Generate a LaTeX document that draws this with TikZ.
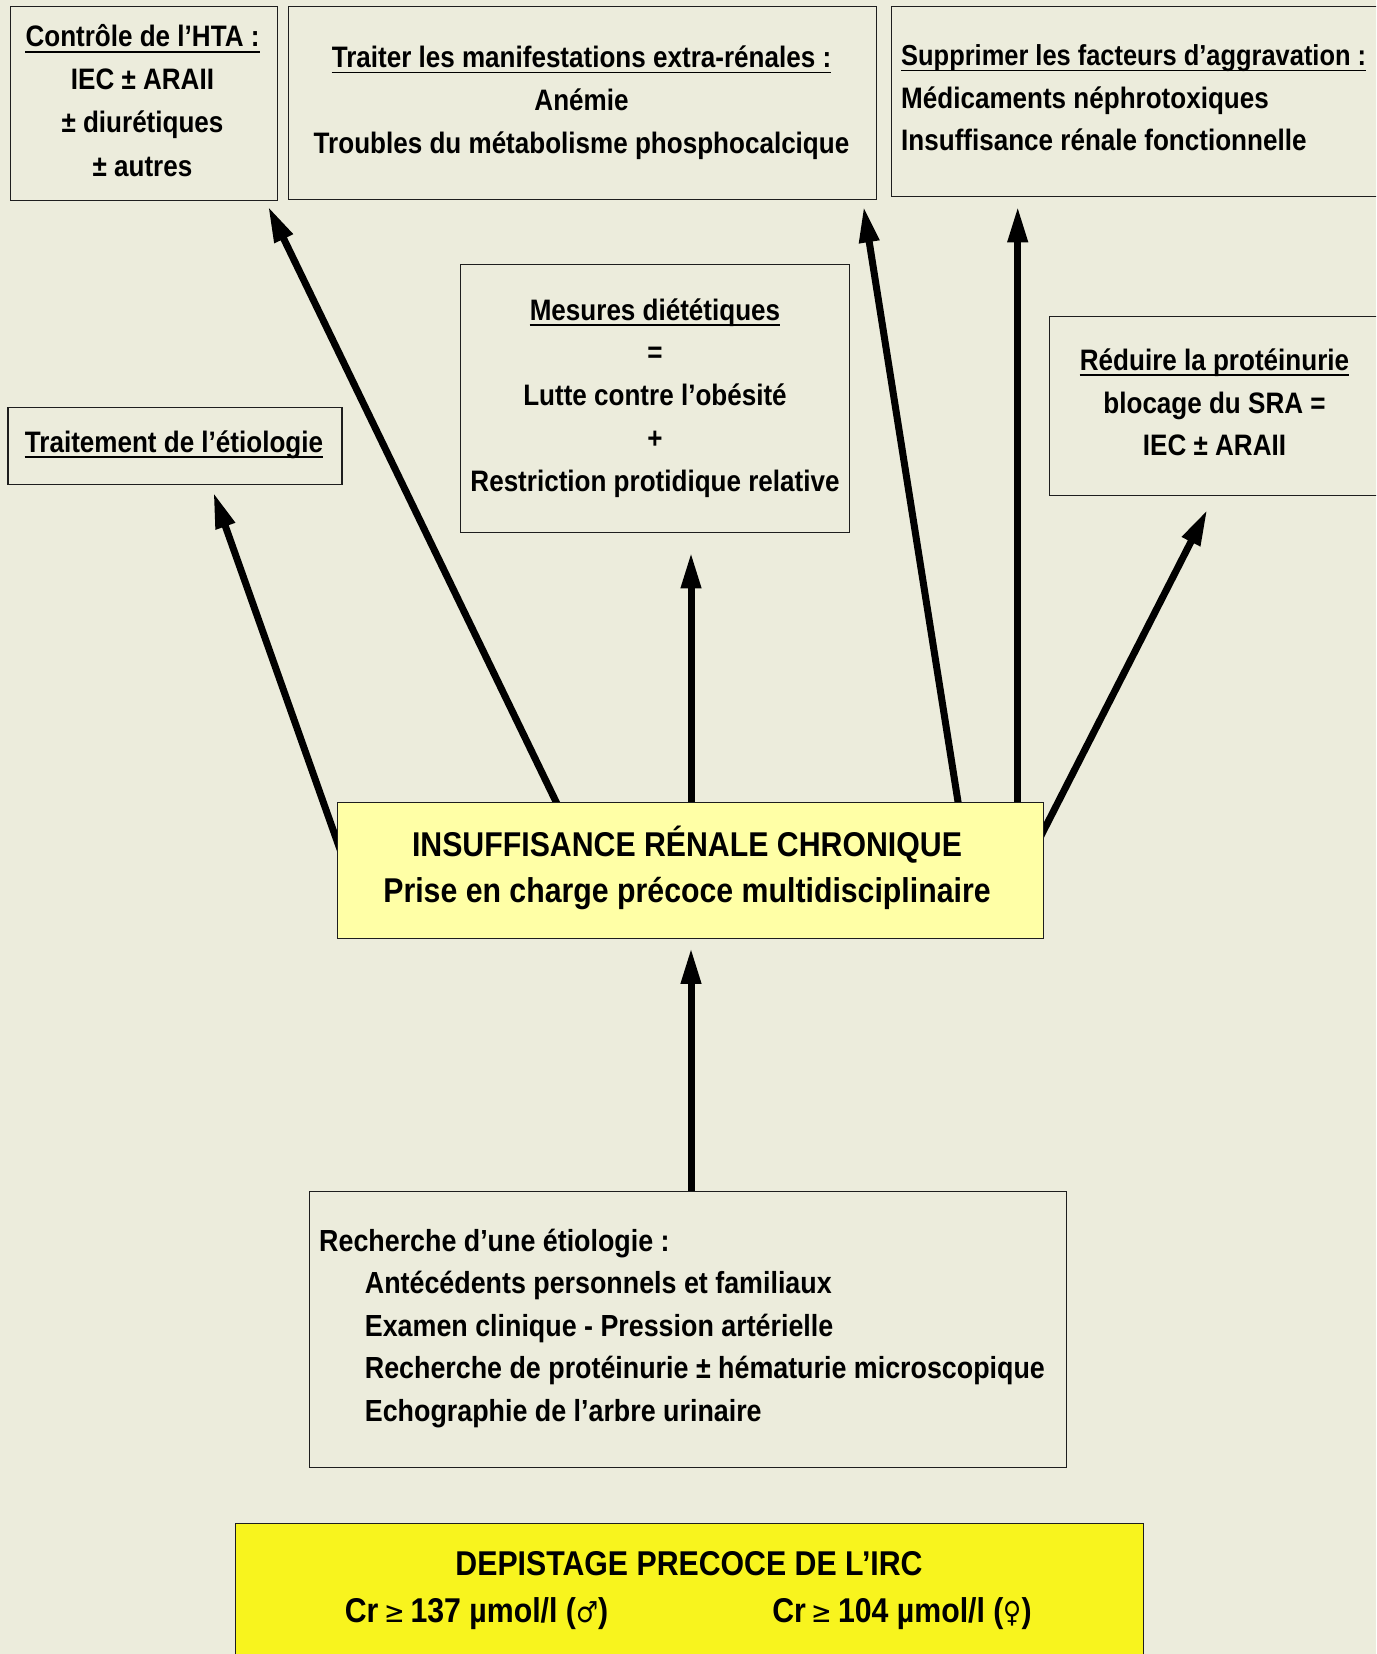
\documentclass[tikz,border=0pt]{standalone}
\usepackage{fontspec}
\setmainfont{Liberation Sans}
\newfontfamily\lab{Liberation Sans}[FakeStretch=0.88]
\newfontfamily\symf{DejaVu Sans}[FakeStretch=0.85]
\newcommand\sy[1]{{\symf\mdseries\fontsize{29}{36}\selectfont #1}}
\usetikzlibrary{arrows.meta,calc}
\definecolor{bg}{RGB}{236,236,220}
\definecolor{ircfill}{RGB}{255,255,166}
\definecolor{depfill}{RGB}{248,244,30}
\definecolor{edge}{RGB}{30,30,30}
\pgfdeclarelayer{bgl}
\pgfdeclarelayer{back}
\pgfsetlayers{bgl,back,main}
\begin{document}
\begin{tikzpicture}[x=1pt,y=-1pt,
  box/.style={draw=edge, line width=1.4pt, fill=bg, inner sep=0pt, anchor=north west},
  t/.style={inner sep=0pt, anchor=base, font=\lab\bfseries\fontsize{29.6}{36}\selectfont},
  tl/.style={t, anchor=base west},
  tr/.style={tl, font=\lab\bfseries\fontsize{30.5}{36}\selectfont},
  big/.style={t, font=\lab\bfseries\fontsize{34.4}{40}\selectfont},
  arr/.style={line width=7pt, -{Triangle[length=36pt,width=19pt]}},
  ul/.style={line width=1.6pt}]
\useasboundingbox (0,0) rectangle (1376,1654);
\clip (0,0) rectangle (1376,1654);
\begin{pgfonlayer}{bgl}
\fill[bg] (0,0) rectangle (1376,1654);
\end{pgfonlayer}

% boxes
\node[box, minimum width=267pt, minimum height=194pt] (ctrl) at (9.5,6) {};
\node[box, minimum width=588pt, minimum height=193pt] (traiter) at (287.5,6) {};
\node[box, minimum width=500pt, minimum height=190pt] (suppr) at (891,6) {};
\node[box, minimum width=388.5pt, minimum height=268pt] (mesures) at (460,264) {};
\node[box, minimum width=340pt, minimum height=179pt] (reduire) at (1049,315.5) {};
\node[box, minimum width=334pt, minimum height=77pt] (etio) at (7.4,407) {};
\node[box, fill=ircfill, minimum width=705.8pt, minimum height=136pt] (irc) at (336.7,801.7) {};
\node[box, minimum width=757pt, minimum height=276pt] (rech) at (309,1191) {};
\node[box, fill=depfill, minimum width=908pt, minimum height=200pt] (dep) at (235,1523) {};

% arrow ends
\coordinate (b1) at ($(irc.north west)+(0,38.3)$);
\coordinate (t1) at ($(etio.south west)+(206,7)$);
\coordinate (b2) at ($(irc.north west)+(219.3,0)$);
\coordinate (t2) at ($(ctrl.south east)+(-9.8,5)$);
\coordinate (b3) at ($(irc.north west)+(354.3,0)$);
\coordinate (t3) at ($(mesures.south west)+(231,19)$);
\coordinate (b4) at ($(irc.north west)+(621.3,0)$);
\coordinate (t4) at ($(traiter.south east)+(-13.3,6)$);
\coordinate (b5) at ($(irc.north west)+(681,0)$);
\coordinate (t5) at ($(suppr.south west)+(126.7,9)$);
\coordinate (b6) at ($(irc.north east)+(0,28.3)$);
\coordinate (t6) at ($(reduire.south west)+(158.3,13.8)$);
\coordinate (b7) at ($(rech.north west)+(382,0)$);
\coordinate (t7) at ($(irc.south west)+(354.3,8.8)$);

\begin{pgfonlayer}{back}
\foreach \i in {1,...,6}{
  \draw[arr] ($(b\i)!-15pt!(t\i)$) -- (t\i);
}
\draw[arr] ($(b7)!-10pt!(t7)$) -- (t7);
\end{pgfonlayer}

% texts: Controle
\node[t] (c1) at (142.5,47) {Contrôle de l’HTA :};
\node[t] (c2) at (142.5,89.5) {IEC ± ARAII};
\node[t] (c3) at (142.5,132.5) {± diurétiques};
\node[t] (c4) at (142.5,176) {± autres};
% Traiter
\node[t] (r1) at (581.5,67.5) {Traiter les manifestations extra-rénales :};
\node[t] (r2) at (581.5,110.5) {Anémie};
\node[t] (r3) at (581.5,153.5) {Troubles du métabolisme phosphocalcique};
% Supprimer
\node[tl, font=\lab\bfseries\fontsize{28.9}{36}\selectfont] (s1) at (901,65.5) {Supprimer les facteurs d’aggravation :};
\node[tl] (s2) at (901,108) {Médicaments néphrotoxiques};
\node[tl] (s3) at (901,150.7) {Insuffisance rénale fonctionnelle};
% Mesures
\node[t] (m1) at (655,320) {Mesures diététiques};
\node[t] (m2) at (655,362.8) {=};
\node[t] (m3) at (655,405.5) {Lutte contre l’obésité};
\node[t] (m4) at (655,448.3) {+};
\node[t] (m5) at (655,491) {Restriction protidique relative};
% Reduire
\node[t] (d1) at (1214.5,370) {Réduire la protéinurie};
\node[t] (d2) at (1214.5,413) {blocage du SRA =};
\node[t] (d3) at (1214.5,455) {IEC ± ARAII};
% Etiologie
\node[t] (e1) at (174,452) {Traitement de l’étiologie};
% IRC
\node[big] (i1) at (687,856) {INSUFFISANCE RÉNALE CHRONIQUE};
\node[big] (i2) at (687,902) {Prise en charge précoce multidisciplinaire};
% Recherche
\node[tr] (h0) at (319,1251) {Recherche d’une étiologie :};
\node[tr] (h1) at (364.7,1293.5) {Antécédents personnels et familiaux};
\node[tr] (h2) at (364.7,1336) {Examen clinique - Pression artérielle};
\node[tr] (h3) at (364.7,1378.5) {Recherche de protéinurie ± hématurie microscopique};
\node[tr] (h4) at (364.7,1421) {Echographie de l’arbre urinaire};
% Depistage
\node[big] (p1) at (689,1575) {DEPISTAGE PRECOCE DE L’IRC};
\node[big] (p2) at (476.5,1622) {Cr\,\sy{≥}\,137 µmol/l (\sy{♂})};
\node[big] (p3) at (902,1622) {Cr\,\sy{≥}\,104 µmol/l (\sy{♀})};

% underlines
\foreach \n in {c1,r1,s1,m1,d1,e1}{
  \draw[ul] ($(\n.base west)+(0,5)$) -- ($(\n.base east)+(0,5)$);
}
\end{tikzpicture}
\end{document}
